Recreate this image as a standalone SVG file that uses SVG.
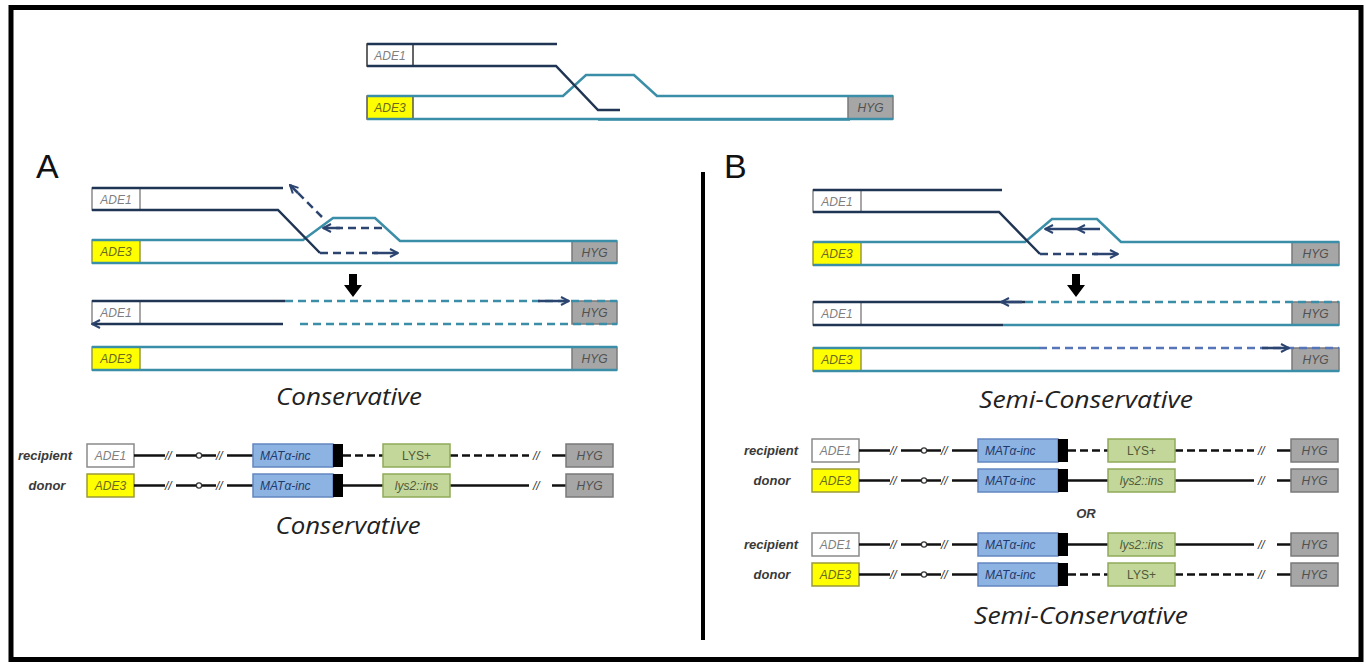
<svg xmlns="http://www.w3.org/2000/svg" width="1366" height="665" viewBox="0 0 1366 665">
  <style>
    .dk { stroke: #1f3553; stroke-width: 2.5; fill: none; }
    .tl { stroke: #3a8ea8; stroke-width: 2.5; fill: none; }
    .dkd { stroke: #2c4470; stroke-width: 2.5; fill: none; stroke-dasharray: 8 5; }
    .tld { stroke: #3a8ea8; stroke-width: 2.5; fill: none; stroke-dasharray: 8 5; }
    .bld { stroke: #5575b8; stroke-width: 2.5; fill: none; stroke-dasharray: 8 5; }
    .arw { stroke: #2c4470; stroke-width: 2.5; fill: none; }
    .bw { fill: #ffffff; stroke: #8a8a8a; stroke-width: 1.5; }
    .by { fill: #ffff00; stroke: #9a9a3a; stroke-width: 1.5; }
    .bg { fill: #a6a6a6; stroke: #7a7a7a; stroke-width: 1.5; }
    .mat { fill: #8db3e2; stroke: #6387c0; stroke-width: 1.5; }
    .lys { fill: #c4d79b; stroke: #8eab58; stroke-width: 1.5; }
    .blk { fill: #000000; }
    .seg { stroke: #111111; stroke-width: 2.5; fill: none; }
    .segd { stroke: #111111; stroke-width: 2.5; fill: none; stroke-dasharray: 8 4; }
    .knot { fill: #ffffff; stroke: #333333; stroke-width: 1.2; }
    .lb { font-family: "Liberation Sans", Arial, sans-serif; font-style: italic; font-size: 12px; text-anchor: middle; }
    .t1 { fill: #7f7f7f; }
    .t3 { fill: #6a6a20; }
    .th { fill: #505050; }
    .tm { fill: #1f3b6b; font-family: "Liberation Sans", Arial, sans-serif; font-style: italic; font-size: 12px; }
    .tg { fill: #4f5a3a; }
    .brk { font-family: "Liberation Sans", Arial, sans-serif; font-style: italic; font-size: 12px; fill: #333333; }
    .side { font-family: "Liberation Sans", Arial, sans-serif; font-style: italic; font-weight: bold; font-size: 13px; fill: #3a3a3a; text-anchor: middle; }
    .cap { font-family: "Open Sans", "Liberation Sans", sans-serif; font-style: italic; font-size: 23px; fill: #222222; text-anchor: middle; }
    .pl { font-family: "Liberation Sans", Arial, sans-serif; font-size: 34px; fill: #111111; }
  </style>
  <defs>
    <marker id="ah" viewBox="0 0 10 10" refX="9" refY="5" markerWidth="10" markerHeight="10" markerUnits="userSpaceOnUse" orient="auto-start-reverse">
      <path d="M1,1 L9,5 L1,9" fill="none" stroke="#2c4470" stroke-width="2"/>
    </marker>
    <polygon id="down" points="-4,0 4,0 4,11 9,11 0,23 -9,11 -4,11" fill="#000"/>
  </defs>

  <rect width="1366" height="665" fill="#ffffff"/>
  <!-- outer frame -->
  <rect x="11" y="7.5" width="1350" height="652" fill="none" stroke="#000" stroke-width="5"/>
  <!-- divider between panels -->
  <line x1="703" y1="172" x2="703" y2="640" stroke="#000" stroke-width="4"/>

  <!-- top: strand invasion -->
  <g id="top-invasion">
    <rect class="bw" x="367" y="44" width="46" height="22" style="stroke:#333"/>
    <text class="lb t1" x="390" y="59.5">ADE1</text>
    <rect class="by" x="367" y="96" width="46" height="23" style="stroke:#555"/>
    <text class="lb t3" x="390" y="112">ADE3</text>
    <rect class="bg" x="848" y="96" width="45" height="23"/>
    <text class="lb th" x="870.5" y="112">HYG</text>
    <path class="dk" d="M367,44 H557"/>
    <path class="tl" d="M367,96 H563 L586,75 H634 L657,96 H893"/>
    <path class="tl" d="M367,119 H893"/>
    <path class="tl" d="M598,120.2 H850" style="stroke-width:1.2"/>
    <path class="dk" d="M367,66 H556 L598,110 H620"/>
  </g>

  <text class="pl" x="36" y="178">A</text>
  <text class="pl" x="724" y="178">B</text>

  <!-- panel A: conservative -->
  <g id="a-invasion">
    <rect class="bw" x="92" y="188" width="48" height="22"/>
    <text class="lb t1" x="116" y="203.5">ADE1</text>
    <rect class="by" x="92" y="240" width="48" height="23"/>
    <text class="lb t3" x="116" y="256">ADE3</text>
    <rect class="bg" x="572" y="241" width="45" height="22"/>
    <text class="lb th" x="594.5" y="256.5">HYG</text>
    <path class="dk" d="M92,188 H283"/>
    <path class="tl" d="M92,240 H303 L333,218 H375 L400,241 H617"/>
    <path class="tl" d="M92,263 H617"/>
    <path class="dk" d="M92,210 H278 L320,253"/>
  </g>
  <g id="a-synthesis">
    <path class="dkd" d="M320,253 H378"/>
    <path class="arw" d="M374,253 H398" marker-end="url(#ah)"/>
    <path class="dkd" d="M322,217 L296,191"/>
    <path class="arw" d="M298,193 L290,185" marker-end="url(#ah)"/>
    <path class="dkd" d="M382,228 H336"/>
    <path class="arw" d="M340,228 H323" marker-end="url(#ah)"/>
  </g>
  <use href="#down" x="353" y="274"/>
  <g id="a-products">
    <rect class="bw" x="92" y="301" width="48" height="23"/>
    <text class="lb t1" x="116" y="317">ADE1</text>
    <rect class="bg" x="572" y="301" width="45" height="23"/>
    <text class="lb th" x="594.5" y="317">HYG</text>
    <path class="dk" d="M92,301 H285"/>
    <path class="tld" d="M285,301 H617"/>
    <path class="arw" d="M538,301 H569" marker-end="url(#ah)"/>
    <path class="dk" d="M92,324 H283" marker-start="url(#ah)"/>
    <path class="tld" d="M300,324 H617"/>
    <rect class="by" x="92" y="347" width="48" height="23"/>
    <text class="lb t3" x="116" y="363">ADE3</text>
    <rect class="bg" x="572" y="347" width="45" height="23"/>
    <text class="lb th" x="594.5" y="363">HYG</text>
    <path class="tl" d="M92,347 H617"/>
    <path class="tl" d="M92,370 H617"/>
  </g>
  <text class="cap" x="349" y="405" textLength="146" lengthAdjust="spacingAndGlyphs">Conservative</text>

  <!-- panel A: marker outcome -->
  <g id="a-rows">
    <text class="side" x="45" y="460">recipient</text>
    <text class="side" x="47" y="490">donor</text>
    <g id="a-recipient" transform="translate(87,444)">
      <rect class="bw" x="0" y="0" width="47" height="23"/>
      <text class="lb t1" x="23.5" y="16">ADE1</text>
      <path class="seg" d="M47,11.5 H78 M89,11.5 H109 M115,11.5 H129 M140,11.5 H166 M465,11.5 H479"/>
      <text class="brk" x="78" y="15.5">//</text>
      <circle class="knot" cx="112" cy="11.5" r="2.6"/>
      <text class="brk" x="129" y="15.5">//</text>
      <rect class="mat" x="166" y="0" width="80" height="23"/>
      <text class="tm" x="173" y="16">MATα-inc</text>
      <rect class="blk" x="246" y="0" width="10" height="23"/>
      <path class="segd" d="M256,11.5 H296 M363,11.5 H442"/>
      <rect class="lys" x="296" y="0" width="67" height="23"/>
      <text class="lb tg" x="329.5" y="16" style="font-style:normal">LYS+</text>
      <text class="brk" x="446" y="15.5">//</text>
      <rect class="bg" x="479" y="0" width="47" height="23"/>
      <text class="lb th" x="502.5" y="16">HYG</text>
    </g>
    <g id="a-donor" transform="translate(87,474)">
      <rect class="by" x="0" y="0" width="47" height="23"/>
      <text class="lb t3" x="23.5" y="16">ADE3</text>
      <path class="seg" d="M47,11.5 H78 M89,11.5 H109 M115,11.5 H129 M140,11.5 H166 M465,11.5 H479 M256,11.5 H296 M363,11.5 H442"/>
      <text class="brk" x="78" y="15.5">//</text>
      <circle class="knot" cx="112" cy="11.5" r="2.6"/>
      <text class="brk" x="129" y="15.5">//</text>
      <rect class="mat" x="166" y="0" width="80" height="23"/>
      <text class="tm" x="173" y="16">MATα-inc</text>
      <rect class="blk" x="246" y="0" width="10" height="23"/>
      <rect class="lys" x="296" y="0" width="67" height="23"/>
      <text class="lb tg" x="329.5" y="16">lys2::ins</text>
      <text class="brk" x="446" y="15.5">//</text>
      <rect class="bg" x="479" y="0" width="47" height="23"/>
      <text class="lb th" x="502.5" y="16">HYG</text>
    </g>
  </g>
  <text class="cap" x="348" y="534" textLength="145" lengthAdjust="spacingAndGlyphs">Conservative</text>

  <!-- panel B: semi-conservative -->
  <g id="b-invasion">
    <rect class="bw" x="813" y="190" width="48" height="22"/>
    <text class="lb t1" x="837" y="205.5">ADE1</text>
    <rect class="by" x="813" y="242" width="48" height="23"/>
    <text class="lb t3" x="837" y="258">ADE3</text>
    <rect class="bg" x="1292" y="242" width="47" height="23"/>
    <text class="lb th" x="1315.5" y="258">HYG</text>
    <path class="dk" d="M813,190 H1002"/>
    <path class="tl" d="M813,242 H1025 L1052,219 H1097 L1121,242 H1339"/>
    <path class="tl" d="M813,265 H1339"/>
    <path class="dk" d="M813,212 H999 L1040,254"/>
  </g>
  <g id="b-synthesis">
    <path class="dkd" d="M1040,254 H1098"/>
    <path class="arw" d="M1094,254 H1118" marker-end="url(#ah)"/>
    <path class="arw" d="M1100,229 L1077,229 L1045,229" marker-mid="url(#ah)" marker-end="url(#ah)"/>
  </g>
  <use href="#down" x="1076" y="274"/>
  <g id="b-products">
    <rect class="bw" x="813" y="302" width="48" height="23"/>
    <text class="lb t1" x="837" y="318">ADE1</text>
    <rect class="bg" x="1292" y="302" width="47" height="23"/>
    <text class="lb th" x="1315.5" y="318">HYG</text>
    <path class="dk" d="M813,302 H1025"/>
    <path class="arw" d="M1022,302 H1001" marker-end="url(#ah)"/>
    <path class="tld" d="M1025,302 H1339"/>
    <path class="dk" d="M813,325 H1003"/>
    <path class="tl" d="M1003,325 H1339"/>
    <rect class="by" x="813" y="348" width="48" height="23"/>
    <text class="lb t3" x="837" y="364">ADE3</text>
    <rect class="bg" x="1292" y="348" width="47" height="23"/>
    <text class="lb th" x="1315.5" y="364">HYG</text>
    <path class="tl" d="M813,348 H1039"/>
    <path class="bld" d="M1039,348 H1339"/>
    <path class="arw" d="M1262,348 H1289" marker-end="url(#ah)"/>
    <path class="tl" d="M813,371 H1339"/>
  </g>
  <text class="cap" x="1086" y="408" textLength="214" lengthAdjust="spacingAndGlyphs">Semi-Conservative</text>

  <!-- panel B: marker outcomes -->
  <g id="b-rows">
    <text class="side" x="771" y="455">recipient</text>
    <text class="side" x="772" y="485">donor</text>
    <g id="b-recipient-1" transform="translate(812,439)">
      <rect class="bw" x="0" y="0" width="47" height="23"/>
      <text class="lb t1" x="23.5" y="16">ADE1</text>
      <path class="seg" d="M47,11.5 H78 M89,11.5 H109 M115,11.5 H129 M140,11.5 H166 M465,11.5 H479"/>
      <text class="brk" x="78" y="15.5">//</text>
      <circle class="knot" cx="112" cy="11.5" r="2.6"/>
      <text class="brk" x="129" y="15.5">//</text>
      <rect class="mat" x="166" y="0" width="80" height="23"/>
      <text class="tm" x="173" y="16">MATα-inc</text>
      <rect class="blk" x="246" y="0" width="10" height="23"/>
      <path class="segd" d="M256,11.5 H296 M363,11.5 H442"/>
      <rect class="lys" x="296" y="0" width="67" height="23"/>
      <text class="lb tg" x="329.5" y="16" style="font-style:normal">LYS+</text>
      <text class="brk" x="446" y="15.5">//</text>
      <rect class="bg" x="479" y="0" width="47" height="23"/>
      <text class="lb th" x="502.5" y="16">HYG</text>
    </g>
    <g id="b-donor-1" transform="translate(812,469)">
      <rect class="by" x="0" y="0" width="47" height="23"/>
      <text class="lb t3" x="23.5" y="16">ADE3</text>
      <path class="seg" d="M47,11.5 H78 M89,11.5 H109 M115,11.5 H129 M140,11.5 H166 M465,11.5 H479 M256,11.5 H296 M363,11.5 H442"/>
      <text class="brk" x="78" y="15.5">//</text>
      <circle class="knot" cx="112" cy="11.5" r="2.6"/>
      <text class="brk" x="129" y="15.5">//</text>
      <rect class="mat" x="166" y="0" width="80" height="23"/>
      <text class="tm" x="173" y="16">MATα-inc</text>
      <rect class="blk" x="246" y="0" width="10" height="23"/>
      <rect class="lys" x="296" y="0" width="67" height="23"/>
      <text class="lb tg" x="329.5" y="16">lys2::ins</text>
      <text class="brk" x="446" y="15.5">//</text>
      <rect class="bg" x="479" y="0" width="47" height="23"/>
      <text class="lb th" x="502.5" y="16">HYG</text>
    </g>
    <text class="side" x="1086" y="518">OR</text>
    <text class="side" x="771" y="549">recipient</text>
    <text class="side" x="772" y="579">donor</text>
    <g id="b-recipient-2" transform="translate(812,533)">
      <rect class="bw" x="0" y="0" width="47" height="23"/>
      <text class="lb t1" x="23.5" y="16">ADE1</text>
      <path class="seg" d="M47,11.5 H78 M89,11.5 H109 M115,11.5 H129 M140,11.5 H166 M465,11.5 H479 M256,11.5 H296 M363,11.5 H442"/>
      <text class="brk" x="78" y="15.5">//</text>
      <circle class="knot" cx="112" cy="11.5" r="2.6"/>
      <text class="brk" x="129" y="15.5">//</text>
      <rect class="mat" x="166" y="0" width="80" height="23"/>
      <text class="tm" x="173" y="16">MATα-inc</text>
      <rect class="blk" x="246" y="0" width="10" height="23"/>
      <rect class="lys" x="296" y="0" width="67" height="23"/>
      <text class="lb tg" x="329.5" y="16">lys2::ins</text>
      <text class="brk" x="446" y="15.5">//</text>
      <rect class="bg" x="479" y="0" width="47" height="23"/>
      <text class="lb th" x="502.5" y="16">HYG</text>
    </g>
    <g id="b-donor-2" transform="translate(812,563)">
      <rect class="by" x="0" y="0" width="47" height="23"/>
      <text class="lb t3" x="23.5" y="16">ADE3</text>
      <path class="seg" d="M47,11.5 H78 M89,11.5 H109 M115,11.5 H129 M140,11.5 H166 M465,11.5 H479"/>
      <text class="brk" x="78" y="15.5">//</text>
      <circle class="knot" cx="112" cy="11.5" r="2.6"/>
      <text class="brk" x="129" y="15.5">//</text>
      <rect class="mat" x="166" y="0" width="80" height="23"/>
      <text class="tm" x="173" y="16">MATα-inc</text>
      <rect class="blk" x="246" y="0" width="10" height="23"/>
      <path class="segd" d="M256,11.5 H296 M363,11.5 H442"/>
      <rect class="lys" x="296" y="0" width="67" height="23"/>
      <text class="lb tg" x="329.5" y="16" style="font-style:normal">LYS+</text>
      <text class="brk" x="446" y="15.5">//</text>
      <rect class="bg" x="479" y="0" width="47" height="23"/>
      <text class="lb th" x="502.5" y="16">HYG</text>
    </g>
  </g>
  <text class="cap" x="1081" y="624" textLength="214" lengthAdjust="spacingAndGlyphs">Semi-Conservative</text>
</svg>
